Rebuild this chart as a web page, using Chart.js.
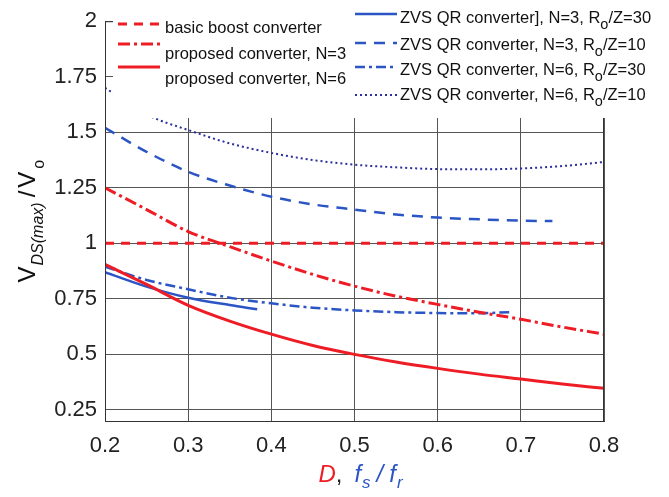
<!DOCTYPE html>
<html>
<head>
<meta charset="utf-8">
<script src="https://cdn.jsdelivr.net/npm/chart.js@4.4.1/dist/chart.umd.min.js"></script>
<style>
  html, body { margin: 0; padding: 0; background: #fff; }
  canvas { display: block; }
</style>
</head>
<body>
<canvas id="chart" width="669" height="497"></canvas>
<script>
// axis ticks
const xTicks = [0.2, 0.3, 0.4, 0.5, 0.6, 0.7, 0.8];
const yTicks = [0.25, 0.5, 0.75, 1, 1.25, 1.5, 1.75, 2];
const yTickLabels = ['0.25', '0.5', '0.75', '1', '1.25', '1.5', '1.75', '2'];

// basic boost converter
const xBoost = [0.2, 0.8];
const yBoost = [1, 1];

// proposed converter (D)
const xProp = [0.2, 0.25, 0.3, 0.35, 0.4, 0.45, 0.5, 0.55, 0.6, 0.65, 0.7, 0.75, 0.8];
const yPropN3 = [1.25, 1.152, 1.053, 0.985, 0.92, 0.86, 0.807, 0.762, 0.725, 0.69, 0.658, 0.623, 0.591];
const yPropN6 = [0.905, 0.815, 0.721, 0.65, 0.591, 0.54, 0.50, 0.466, 0.437, 0.411, 0.389, 0.367, 0.347];

// ZVS QR converter (fs/fr)
const xZvsN3R30 = [0.2, 0.25, 0.3, 0.35, 0.383];
const yZvsN3R30 = [0.87, 0.805, 0.755, 0.722, 0.703];
const xZvsN3R10 = [0.2, 0.25, 0.3, 0.35, 0.4, 0.45, 0.5, 0.55, 0.6, 0.65, 0.7, 0.738];
const yZvsN3R10 = [1.52, 1.412, 1.322, 1.26, 1.21, 1.175, 1.152, 1.13, 1.116, 1.108, 1.102, 1.10];
const xZvsN6R30 = [0.2, 0.25, 0.3, 0.35, 0.4, 0.45, 0.5, 0.55, 0.6, 0.65, 0.686];
const yZvsN6R30 = [0.895, 0.835, 0.793, 0.755, 0.73, 0.71, 0.698, 0.69, 0.686, 0.685, 0.69];
const xZvsN6R10 = [0.2, 0.25, 0.3, 0.35, 0.4, 0.45, 0.5, 0.55, 0.6, 0.65, 0.7, 0.75, 0.8];
const yZvsN6R10 = [1.70, 1.58, 1.51, 1.45, 1.407, 1.375, 1.354, 1.342, 1.334, 1.333, 1.337, 1.348, 1.366];

const labels = [
  'basic boost converter',
  'proposed converter, N=3',
  'proposed converter, N=6',
  'ZVS QR converter], N=3, R_o/Z=30',
  'ZVS QR converter, N=3, R_o/Z=10',
  'ZVS QR converter, N=6, R_o/Z=30',
  'ZVS QR converter, N=6, R_o/Z=10'
];

const RED = '#ee1c25', BLUE = '#2b55c4', NAVY = '#2b2f9e';
const FONT = '"Liberation Sans", Arial, sans-serif';

const pts = (xs, ys) => xs.map((x, i) => ({ x, y: ys[i] }));
function ds(label, xs, ys, color, width, dash) {
  return {
    label, data: pts(xs, ys), borderColor: color, borderWidth: width,
    borderDash: dash, pointRadius: 0, fill: false, cubicInterpolationMode: 'monotone'
  };
}

const datasets = [
  ds(labels[0], xBoost, yBoost, RED, 3, [9, 7]),
  ds(labels[1], xProp, yPropN3, RED, 3, [12, 4, 3, 4]),
  ds(labels[2], xProp, yPropN6, RED, 3, []),
  ds(labels[3], xZvsN3R30, yZvsN3R30, BLUE, 2.5, []),
  ds(labels[4], xZvsN3R10, yZvsN3R10, BLUE, 2.5, [11, 8]),
  ds(labels[5], xZvsN6R30, yZvsN6R30, BLUE, 2.5, [10, 4, 3, 4]),
  ds(labels[6], xZvsN6R10, yZvsN6R10, NAVY, 2, [2, 3])
];

// text with "_x" single-char subscripts
function richText(ctx, str, x, y, size, color) {
  const parts = str.split(/_(.)/);
  ctx.fillStyle = color;
  ctx.textBaseline = 'alphabetic';
  parts.forEach((p, i) => {
    const sub = i % 2 === 1;
    ctx.font = `${sub ? size - 2 : size}px ${FONT}`;
    ctx.fillText(p, x, sub ? y + 6 : y);
    x += ctx.measureText(p).width;
  });
}

// draw a sequence of text pieces, returns total width
function pieces(ctx, list, x, y, draw) {
  let w = 0;
  list.forEach(p => {
    ctx.font = p.font;
    if (draw) { ctx.fillStyle = p.color; ctx.fillText(p.t, x + w + (p.gap || 0), y + (p.dy || 0)); }
    w += (p.gap || 0) + ctx.measureText(p.t).width;
  });
  return w;
}

const overlay = {
  id: 'overlay',
  afterDatasetsDraw(chart) {
    const { ctx, chartArea: a } = chart;
    ctx.save();
    // axes box
    ctx.strokeStyle = '#333';
    ctx.lineWidth = 1;
    ctx.setLineDash([]);
    ctx.strokeRect(a.left + 0.5, a.top + 0.5, a.right - a.left - 1, a.bottom - a.top);
    // legend background
    ctx.fillStyle = '#fff';
    ctx.fillRect(a.left + 8, 0, chart.width - a.left - 8, 118);

    const left = { x0: 118, x1: 160, tx: 165, lineY: [24, 44, 67], textY: [33, 59, 84] };
    const right = { x0: 355, x1: 397, tx: 400, lineY: [14, 43, 67, 95], textY: [23, 50, 75, 100] };
    const items = [[0, left, 0], [1, left, 1], [2, left, 2], [3, right, 0], [4, right, 1], [5, right, 2], [6, right, 3]];
    items.forEach(([i, box, row]) => {
      const d = chart.data.datasets[i];
      ctx.strokeStyle = d.borderColor;
      ctx.lineWidth = d.borderWidth;
      ctx.setLineDash(d.borderDash || []);
      ctx.beginPath();
      ctx.moveTo(box.x0, box.lineY[row]);
      ctx.lineTo(box.x1, box.lineY[row]);
      ctx.stroke();
      richText(ctx, d.label, box.tx, box.textY[row], 16.5, '#111');
    });
    ctx.setLineDash([]);

    // x title: D, fs/fr
    const big = `italic 24px ${FONT}`, sub = `italic 17px ${FONT}`;
    const xt = [
      { t: 'D', font: big, color: RED },
      { t: ',', font: `24px ${FONT}`, color: '#222' },
      { t: 'f', font: big, color: BLUE, gap: 12 },
      { t: 's', font: sub, color: BLUE, dy: 6, gap: 1 },
      { t: '/', font: big, color: BLUE, gap: 6 },
      { t: 'f', font: big, color: BLUE, gap: 6 },
      { t: 'r', font: sub, color: BLUE, dy: 6, gap: 1 }
    ];
    ctx.textBaseline = 'alphabetic';
    const wx = pieces(ctx, xt, 0, 0, false);
    pieces(ctx, xt, (a.left + a.right) / 2 + 6 - wx / 2, 482, true);

    // y title: V_DS(max)/V_o
    const yt = [
      { t: 'V', font: `24px ${FONT}`, color: '#111' },
      { t: 'DS(max)', font: `italic 16px ${FONT}`, color: '#111', dy: 8, gap: 1 },
      { t: '/', font: `24px ${FONT}`, color: '#111', gap: 5 },
      { t: 'V', font: `24px ${FONT}`, color: '#111', gap: 3 },
      { t: 'o', font: `16px ${FONT}`, color: '#111', dy: 9, gap: 3 }
    ];
    const wy = pieces(ctx, yt, 0, 0, false);
    ctx.translate(35, (a.top + a.bottom) / 2);
    ctx.rotate(-Math.PI / 2);
    pieces(ctx, yt, -wy / 2, 0, true);
    ctx.restore();
  }
};

new Chart(document.getElementById('chart'), {
  type: 'line',
  data: { datasets },
  plugins: [overlay],
  options: {
    responsive: false,
    animation: false,
    layout: { padding: { top: 21, right: 65, left: 0, bottom: 0 } },
    plugins: { legend: { display: false }, tooltip: { enabled: false } },
    scales: {
      x: {
        type: 'linear', min: 0.2, max: 0.8,
        afterBuildTicks: s => { s.ticks = xTicks.map(v => ({ value: v })); },
        afterFit: s => { s.height = 76; },
        grid: { color: '#555', lineWidth: 1, drawTicks: false },
        border: { color: '#333' },
        ticks: { color: '#222', font: { family: FONT, size: 22 }, padding: 12, maxRotation: 0,
                 callback: v => String(v) }
      },
      y: {
        type: 'linear', min: 0.2, max: 2,
        afterBuildTicks: s => { s.ticks = yTicks.map(v => ({ value: v })); },
        afterFit: s => { s.width = 105; },
        grid: { color: '#555', lineWidth: 1, drawTicks: false },
        border: { color: '#333' },
        ticks: { color: '#222', font: { family: FONT, size: 22 }, padding: 8,
                 callback: (v) => yTickLabels[yTicks.indexOf(v)] ?? '' }
      }
    }
  }
});
</script>
</body>
</html>
